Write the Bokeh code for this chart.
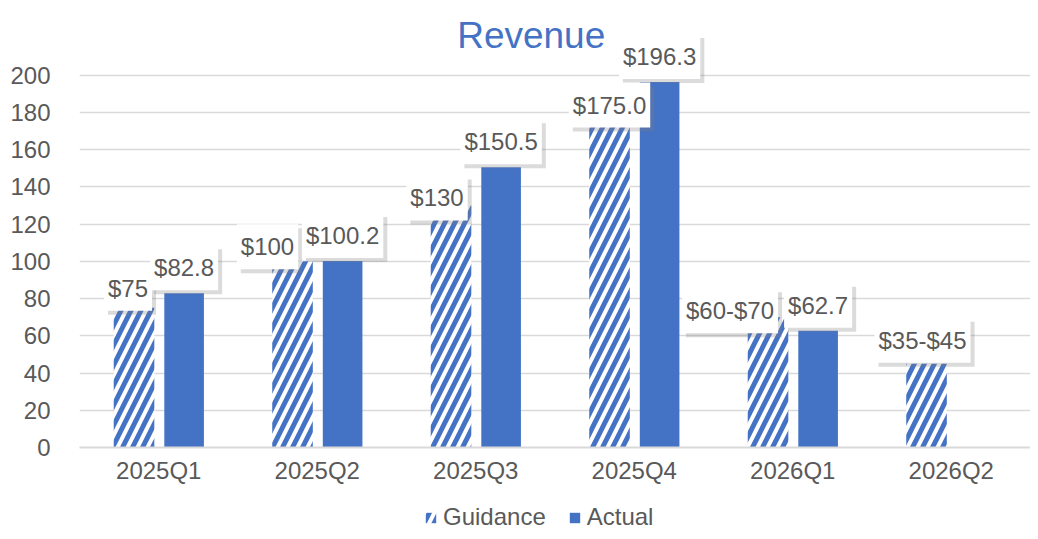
from bokeh.plotting import figure
from bokeh.layouts import column
from bokeh.models import ColumnDataSource, FactorRange, Range1d, FixedTicker, Legend, LegendItem, Label
from bokeh.transform import dodge
from bokeh.core.properties import value
from bokeh.embed import file_html
from bokeh.resources import INLINE

quarters = ["2025Q1", "2025Q2", "2025Q3", "2025Q4", "2026Q1", "2026Q2"]
guidance = [75, 100, 130, 175, 70, 45]
guidance_labels = ["$75", "$100", "$130", "$175.0", "$60-$70", "$35-$45"]
actual_quarters = ["2025Q1", "2025Q2", "2025Q3", "2025Q4", "2026Q1"]
actual = [82.8, 100.2, 150.5, 196.3, 62.7]
actual_labels = ["$82.8", "$100.2", "$150.5", "$196.3", "$62.7"]
y_ticks = [0, 20, 40, 60, 80, 100, 120, 140, 160, 180, 200]
title_text = "Revenue"

# label nudges in screen pixels (style, not data)
g_dx = [-6, -25, -14, 0, -38, -4]
g_dy = [3, 8, 15, 6, 16, -1]
SH = 4  # shadow offset
A_DY = -3

BLUE = "#4472C4"
GRAY_TXT = "#595959"
GRID = "#D9D9D9"
FONT = "Liberation Sans"

gsrc = ColumnDataSource(dict(q=quarters, v=guidance, t=guidance_labels, dx=g_dx, dy=g_dy,
                             sdx=[d + SH for d in g_dx], sdy=[d + SH for d in g_dy]))
asrc = ColumnDataSource(dict(q=actual_quarters, v=actual, t=actual_labels))

p = figure(x_range=FactorRange(*quarters, range_padding=0), y_range=Range1d(0, 240),
           width=1030, height=499, output_backend="svg", toolbar_location=None,
           min_border_left=79, min_border_right=0, min_border_top=0, min_border_bottom=52)

# title drawn inside the (taller) frame so that the data-label boxes above 200 are not clipped
p.add_layout(Label(x=2.85, y=221, text=title_text, text_font=FONT, text_font_size="37px",
                   text_color=BLUE, text_align="center", text_baseline="alphabetic"))

hatch_style = dict(fill_color="white", line_color=None, hatch_pattern="/", hatch_color=BLUE,
                   hatch_scale=20, hatch_weight=5)
solid_style = dict(fill_color=BLUE, line_color=None)

p.vbar(x=dodge("q", -0.156, range=p.x_range), top="v", width=0.256, source=gsrc, **hatch_style)
p.vbar(x=dodge("q", 0.16, range=p.x_range), top="v", width=0.25, source=asrc, **solid_style)

common = dict(text="t", text_font=value(FONT), text_font_size="24px", anchor="bottom_center",
              text_align="center", text_baseline="bottom", padding=(4, 9))

# shadows
p.text(x=dodge("q", -0.156, range=p.x_range), y="v", source=gsrc, x_offset="sdx", y_offset="sdy",
       text_alpha=0, background_fill_color="#7f7f7f", background_fill_alpha=0.28, **common)
p.text(x=dodge("q", 0.16, range=p.x_range), y="v", source=asrc, x_offset=SH, y_offset=A_DY + SH,
       text_alpha=0, background_fill_color="#7f7f7f", background_fill_alpha=0.28, **common)
# boxes
p.text(x=dodge("q", -0.156, range=p.x_range), y="v", source=gsrc, x_offset="dx", y_offset="dy",
       text_color=GRAY_TXT, background_fill_color="white", **common)
p.text(x=dodge("q", 0.16, range=p.x_range), y="v", source=asrc, x_offset=0, y_offset=A_DY,
       text_color=GRAY_TXT, background_fill_color="white", **common)

p.yaxis.ticker = FixedTicker(ticks=y_ticks)
p.yaxis.axis_line_color = None
p.yaxis.major_tick_line_color = None
p.yaxis.minor_tick_line_color = None
p.yaxis.major_label_standoff = 23
p.yaxis.major_label_text_font = FONT
p.yaxis.major_label_text_font_size = "24px"
p.yaxis.major_label_text_color = GRAY_TXT

p.xaxis.axis_line_color = GRID
p.xaxis.axis_line_width = 2
p.xaxis.major_tick_line_color = None
p.xaxis.major_label_standoff = 3
p.xaxis.major_label_text_font = FONT
p.xaxis.major_label_text_font_size = "24px"
p.xaxis.major_label_text_color = GRAY_TXT

p.xgrid.grid_line_color = None
p.ygrid.grid_line_color = GRID
p.ygrid.grid_line_width = 1.5
p.outline_line_color = None

# legend strip below the chart
q = figure(width=1030, height=32, output_backend="svg", toolbar_location=None,
           x_range=Range1d(0, 1), y_range=Range1d(0, 1), min_border=0,
           x_axis_location=None, y_axis_location=None)
q.grid.visible = False
q.outline_line_color = None
off_g = ColumnDataSource(dict(x=[5], top=[5]))
off_a = ColumnDataSource(dict(x=[5], top=[5]))
lg = q.vbar(x="x", top="top", width=0.1, source=off_g, **hatch_style)
la = q.vbar(x="x", top="top", width=0.1, source=off_a, **solid_style)
legend = Legend(items=[LegendItem(label="Guidance", renderers=[lg]),
                       LegendItem(label="Actual", renderers=[la])],
                orientation="horizontal", location=(345, 0), padding=0, margin=0,
                border_line_color=None, background_fill_alpha=0,
                glyph_width=13, glyph_height=13, label_standoff=6, spacing=22,
                label_text_font=FONT, label_text_font_size="24px", label_text_color=GRAY_TXT)
q.add_layout(legend, "center")

open("out.html", "w").write(file_html(column(p, q, spacing=0), INLINE))
